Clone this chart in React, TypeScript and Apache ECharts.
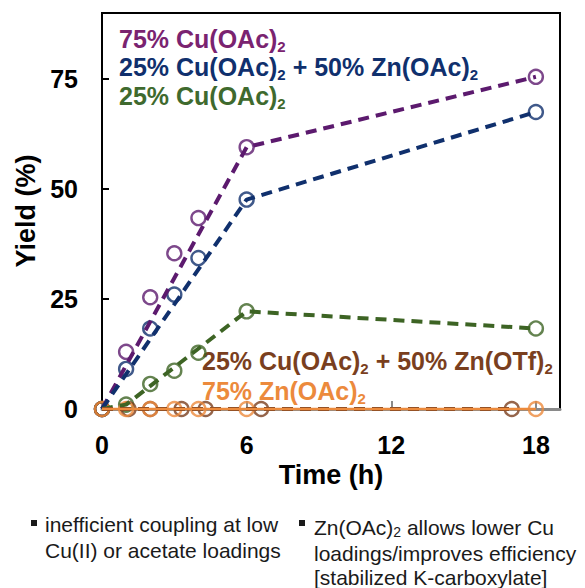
import React, { useEffect, useRef } from "react";
import * as echarts from "echarts";

const FONT = '"Liberation Sans", Arial, Helvetica, sans-serif';

// ---- data ----
const sampleTimes = [0, 1, 2, 3, 4, 6, 18];
const cu75Yield = [0, 13, 25.4, 35.4, 43.4, 59.5, 75.5];
const cu25Zn50Yield = [0, 9.1, 18.3, 26, 34.3, 47.6, 67.5];
const cu25Yield = [0, 1, 5.7, 8.7, 12.8, 22.2, 18.3];
const znOTfTimes = [0, 1.1, 2, 3.3, 4.3, 6.6, 17];
const znOTfYield = [0, 0, 0, 0, 0, 0, 0];
const zn75Yield = [0, 0, 0, 0, 0, 0, 0];

// trend lines
const cu75TrendT = [0, 6, 18];
const cu75Trend = [0, 59.5, 75.5];
const cu25Zn50TrendT = [0, 6, 18];
const cu25Zn50Trend = [0, 47.6, 67.5];
const cu25TrendT = [0, 1, 6, 18];
const cu25Trend = [0, 1, 22.2, 18.3];
const znOTfTrendT = [0, 17];
const znOTfTrend = [0, 0];
const zn75TrendT = [0, 18];
const zn75Trend = [0, 0];

const xTicks = { min: 0, max: 19, interval: 6 };
const yTicks = { min: 0, max: 90, interval: 25 };

const C = {
  purpleLine: "#5c1a6e",
  purpleText: "#7a2370",
  navy: "#10306d",
  greenLine: "#3d6424",
  greenText: "#3f6a2e",
  brown: "#7a3f1e",
  orange: "#ec8a3c",
};

const zip = (xs: number[], ys: number[]) => xs.map((x, i) => [x, ys[i]]);

function trend(xs: number[], ys: number[], color: string, dashed: boolean, width: number) {
  return {
    type: "line",
    data: zip(xs, ys),
    showSymbol: false,
    symbol: "none",
    clip: false,
    silent: true,
    lineStyle: { color, width, type: dashed ? [11, 7] : "solid", cap: "butt" },
  };
}

function marks(xs: number[], ys: number[], color: string) {
  return {
    type: "scatter",
    data: zip(xs, ys),
    symbol: "circle",
    symbolSize: 14,
    clip: false,
    itemStyle: { color: "none", borderColor: color, borderWidth: 2.4 },
  };
}

function richText(x: number, y: number, text: string, color: string, size = 25, sub = 15, pad = 14, weight = "bold") {
  return {
    type: "text",
    x,
    y,
    silent: true,
    style: {
      text,
      fill: color,
      align: "left",
      verticalAlign: "middle",
      fontFamily: FONT,
      fontSize: size,
      fontWeight: weight,
      rich: {
        m: { fill: color, fontFamily: FONT, fontSize: size, fontWeight: weight },
        s: { fill: color, fontFamily: FONT, fontSize: sub, fontWeight: weight, padding: [pad, 0, 0, 0] },
      },
    },
  };
}

export default function App() {
  const ref = useRef<HTMLDivElement>(null);
  useEffect(() => {
    if (!ref.current) return;
    const chart = echarts.init(ref.current, null, { renderer: "svg" });
    const noteColor = "#1a1a1a";
    const axisFont = { fontFamily: FONT, fontSize: 25, fontWeight: "bold", color: "#000" };
    const nameFont = { fontFamily: FONT, fontSize: 27, fontWeight: "bold", color: "#000" };
    chart.setOption({
      animation: false,
      backgroundColor: "#ffffff",
      grid: {
        left: 102,
        right: 25,
        top: 13,
        bottom: 179,
        show: true,
        borderColor: "#000",
        borderWidth: 2,
        backgroundColor: "transparent",
      },
      xAxis: {
        type: "value",
        min: xTicks.min,
        max: xTicks.max,
        interval: xTicks.interval,
        splitLine: { show: false },
        axisLine: { show: true, lineStyle: { color: "#8a8a8a", width: 3 } },
        axisTick: { show: true, inside: true, length: 8, lineStyle: { color: "#8a8a8a", width: 2 } },
        axisLabel: { ...axisFont, margin: 23, showMaxLabel: false },
        name: "Time (h)",
        nameLocation: "middle",
        nameGap: 42,
        nameTextStyle: nameFont,
      },
      yAxis: {
        type: "value",
        min: yTicks.min,
        max: yTicks.max,
        interval: yTicks.interval,
        splitLine: { show: false },
        axisLine: { show: true, lineStyle: { color: "#000", width: 2 } },
        axisTick: { show: true, inside: true, length: 7, lineStyle: { color: "#000", width: 2 } },
        axisLabel: { ...axisFont, margin: 24, showMaxLabel: false },
        name: "Yield (%)",
        nameLocation: "middle",
        nameGap: 60,
        nameTextStyle: nameFont,
      },
      series: [
        trend(cu75TrendT, cu75Trend, C.purpleLine, true, 4),
        trend(cu25Zn50TrendT, cu25Zn50Trend, C.navy, true, 4),
        trend(cu25TrendT, cu25Trend, C.greenLine, true, 4),
        trend(znOTfTrendT, znOTfTrend, C.brown, true, 4),
        marks(sampleTimes, cu75Yield, C.purpleLine),
        marks(sampleTimes, cu25Zn50Yield, C.navy),
        marks(sampleTimes, cu25Yield, C.greenLine),
        marks(znOTfTimes, znOTfYield, C.brown),
        trend(zn75TrendT, zn75Trend, C.orange, false, 2.5),
        marks(sampleTimes, zn75Yield, C.orange),
      ],
      graphic: [
        richText(119, 39, "{m|75% Cu(OAc)}{s|2}", C.purpleText),
        richText(119, 67, "{m|25% Cu(OAc)}{s|2}{m| + 50% Zn(OAc)}{s|2}", C.navy),
        richText(119, 96, "{m|25% Cu(OAc)}{s|2}", C.greenText),
        richText(202, 361, "{m|25% Cu(OAc)}{s|2}{m| + 50% Zn(OTf)}{s|2}", C.brown),
        richText(202, 391, "{m|75% Zn(OAc)}{s|2}", C.orange),
        { type: "rect", shape: { x: 31, y: 520, width: 6, height: 6 }, style: { fill: noteColor }, silent: true },
        richText(45, 524, "{m|inefficient coupling at low}", noteColor, 21, 14, 10, "normal"),
        richText(45, 550, "{m|Cu(II) or acetate loadings}", noteColor, 21, 14, 10, "normal"),
        { type: "rect", shape: { x: 299, y: 520, width: 6, height: 6 }, style: { fill: noteColor }, silent: true },
        richText(314, 527, "{m|Zn(OAc)}{s|2}{m| allows lower Cu}", noteColor, 21, 14, 10, "normal"),
        richText(314, 553, "{m|loadings/improves efficiency}", noteColor, 21, 14, 10, "normal"),
        richText(314, 577, "{m|[stabilized K-carboxylate]}", noteColor, 21, 14, 10, "normal"),
      ],
    });
    return () => chart.dispose();
  }, []);
  return <div ref={ref} style={{ position: "fixed", left: 0, top: 0, width: 585, height: 588 }} />;
}
